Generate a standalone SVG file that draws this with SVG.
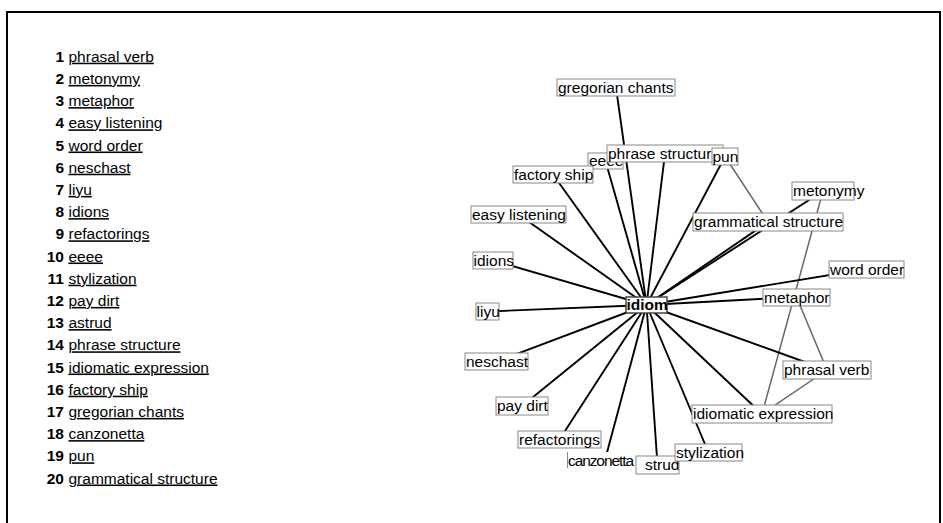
<svg xmlns="http://www.w3.org/2000/svg" width="943" height="523" viewBox="0 0 943 523">
<style>
text{font-family:"Liberation Sans",Arial,sans-serif;font-size:15.5px;fill:#000}
.num{font-weight:bold;text-anchor:end}
.lnk{text-decoration:underline}
.box{fill:#fff;stroke:#888;stroke-width:1}
.e{stroke:#000;stroke-width:1.9;fill:none}
.g{stroke:#666;stroke-width:1.5;fill:none}
</style>
<rect width="943" height="523" fill="#fff"/>
<path d="M7,523 V12 H940 V523" fill="none" stroke="#000" stroke-width="2"/>
<g id="list">
<text class="num" x="64" y="61.7">1</text><text class="lnk" x="68.5" y="61.7">phrasal verb</text>
<text class="num" x="64" y="83.9">2</text><text class="lnk" x="68.5" y="83.9">metonymy</text>
<text class="num" x="64" y="106.1">3</text><text class="lnk" x="68.5" y="106.1">metaphor</text>
<text class="num" x="64" y="128.3">4</text><text class="lnk" x="68.5" y="128.3">easy listening</text>
<text class="num" x="64" y="150.5">5</text><text class="lnk" x="68.5" y="150.5">word order</text>
<text class="num" x="64" y="172.7">6</text><text class="lnk" x="68.5" y="172.7">neschast</text>
<text class="num" x="64" y="194.9">7</text><text class="lnk" x="68.5" y="194.9">liyu</text>
<text class="num" x="64" y="217.1">8</text><text class="lnk" x="68.5" y="217.1">idions</text>
<text class="num" x="64" y="239.3">9</text><text class="lnk" x="68.5" y="239.3">refactorings</text>
<text class="num" x="64" y="261.5">10</text><text class="lnk" x="68.5" y="261.5">eeee</text>
<text class="num" x="64" y="283.7">11</text><text class="lnk" x="68.5" y="283.7">stylization</text>
<text class="num" x="64" y="305.9">12</text><text class="lnk" x="68.5" y="305.9">pay dirt</text>
<text class="num" x="64" y="328.1">13</text><text class="lnk" x="68.5" y="328.1">astrud</text>
<text class="num" x="64" y="350.3">14</text><text class="lnk" x="68.5" y="350.3">phrase structure</text>
<text class="num" x="64" y="372.5">15</text><text class="lnk" x="68.5" y="372.5">idiomatic expression</text>
<text class="num" x="64" y="394.7">16</text><text class="lnk" x="68.5" y="394.7">factory ship</text>
<text class="num" x="64" y="416.9">17</text><text class="lnk" x="68.5" y="416.9">gregorian chants</text>
<text class="num" x="64" y="439.1">18</text><text class="lnk" x="68.5" y="439.1">canzonetta</text>
<text class="num" x="64" y="461.3">19</text><text class="lnk" x="68.5" y="461.3">pun</text>
<text class="num" x="64" y="483.5">20</text><text class="lnk" x="68.5" y="483.5">grammatical structure</text>
</g>
<g id="connectors">
<line class="g" x1="725" y1="156.5" x2="768" y2="222"/>
<line class="g" x1="823" y1="191" x2="762" y2="414"/>
<line class="g" x1="796.5" y1="297" x2="827" y2="370"/>
<line class="g" x1="827" y1="370" x2="762" y2="414"/>
<line class="e" x1="646.5" y1="305" x2="616" y2="87.5"/>
<line class="e" x1="646.5" y1="305" x2="605.5" y2="161"/>
<line class="e" x1="646.5" y1="305" x2="665" y2="153.5"/>
<line class="e" x1="646.5" y1="305" x2="725" y2="156.5"/>
<line class="e" x1="646.5" y1="305" x2="553" y2="174.5"/>
<line class="e" x1="646.5" y1="305" x2="518.5" y2="214.5"/>
<line class="e" x1="646.5" y1="305" x2="768" y2="222"/>
<line class="e" x1="646.5" y1="305" x2="823" y2="191"/>
<line class="e" x1="646.5" y1="305" x2="866.5" y2="269"/>
<line class="e" x1="646.5" y1="305" x2="796.5" y2="297"/>
<line class="e" x1="646.5" y1="305" x2="493" y2="260.5"/>
<line class="e" x1="646.5" y1="305" x2="487.5" y2="311.5"/>
<line class="e" x1="646.5" y1="305" x2="496.5" y2="361.5"/>
<line class="e" x1="646.5" y1="305" x2="827" y2="370"/>
<line class="e" x1="646.5" y1="305" x2="522" y2="406"/>
<line class="e" x1="646.5" y1="305" x2="762" y2="414"/>
<line class="e" x1="646.5" y1="305" x2="559.5" y2="439.5"/>
<line class="e" x1="646.5" y1="305" x2="605" y2="460"/>
<line class="e" x1="646.5" y1="305" x2="657.5" y2="465"/>
<line class="e" x1="646.5" y1="305" x2="708.5" y2="452.5"/>
</g>
<g id="n-gregorian"><rect class="box" x="557" y="79" width="118" height="17"/><text x="558" y="92.5">gregorian chants</text></g>
<g id="n-eeee"><rect class="box" x="588" y="153" width="35" height="16"/><text x="589" y="166">eeee</text></g>
<g id="n-phrase"><rect class="box" x="607" y="145" width="116" height="17"/><text x="608" y="158.5">phrase structure</text></g>
<g id="n-pun"><rect class="box" x="712" y="148" width="26" height="17"/><text x="712.5" y="161.5">pun</text></g>
<g id="n-factory"><rect class="box" x="513" y="166" width="80" height="17"/><text x="514" y="179.5">factory ship</text></g>
<g id="n-easy"><rect class="box" x="471" y="206" width="95" height="17"/><text x="472" y="219.5">easy listening</text></g>
<g id="n-gs"><rect class="box" x="693" y="213" width="150" height="18"/><text x="694" y="227">grammatical structure</text></g>
<g id="n-metonymy"><rect class="box" x="792" y="182" width="62" height="18"/><text x="793" y="196">metonymy</text></g>
<g id="n-word"><rect class="box" x="829" y="261" width="75" height="17"/><text x="830" y="274.5">word order</text></g>
<g id="n-metaphor"><rect class="box" x="763" y="289" width="67" height="17"/><text x="764" y="302.5">metaphor</text></g>
<g id="n-idions"><rect class="box" x="473" y="252" width="40" height="17"/><text x="473.5" y="265.5">idions</text></g>
<g id="n-liyu"><rect class="box" x="476" y="303" width="23" height="17"/><text x="476.5" y="316.5">liyu</text></g>
<g id="n-neschast"><rect class="box" x="465" y="353" width="63" height="17"/><text x="466" y="366.5">neschast</text></g>
<g id="n-phrasal"><rect class="box" x="783" y="361" width="88" height="18"/><text x="784" y="375">phrasal verb</text></g>
<g id="n-paydirt"><rect class="box" x="496" y="397" width="52" height="18"/><text x="497" y="411">pay dirt</text></g>
<g id="n-idexpr"><rect class="box" x="692" y="405" width="140" height="18"/><text x="693" y="419">idiomatic expression</text></g>
<g id="n-refact"><rect class="box" x="518" y="431" width="83" height="17"/><text x="519" y="444.5">refactorings</text></g>
<g id="n-strud"><rect class="box" x="636" y="456" width="43" height="18"/><text x="645" y="470">strud</text></g>
<g id="n-canz"><rect x="567" y="452" width="68" height="17" fill="#fff"/><line x1="567.5" y1="452" x2="567.5" y2="468" stroke="#888"/><text x="568" y="465.5" textLength="66" lengthAdjust="spacing">canzonetta</text></g>
<g id="n-styl"><rect class="box" x="675" y="444" width="67" height="17"/><text x="676" y="457.5">stylization</text></g>
<g id="n-idiom"><rect x="626" y="297" width="41" height="16" fill="#fff" stroke="#444" stroke-width="1.5"/><text x="626.5" y="310" font-weight="bold">idiom</text></g>
</svg>
